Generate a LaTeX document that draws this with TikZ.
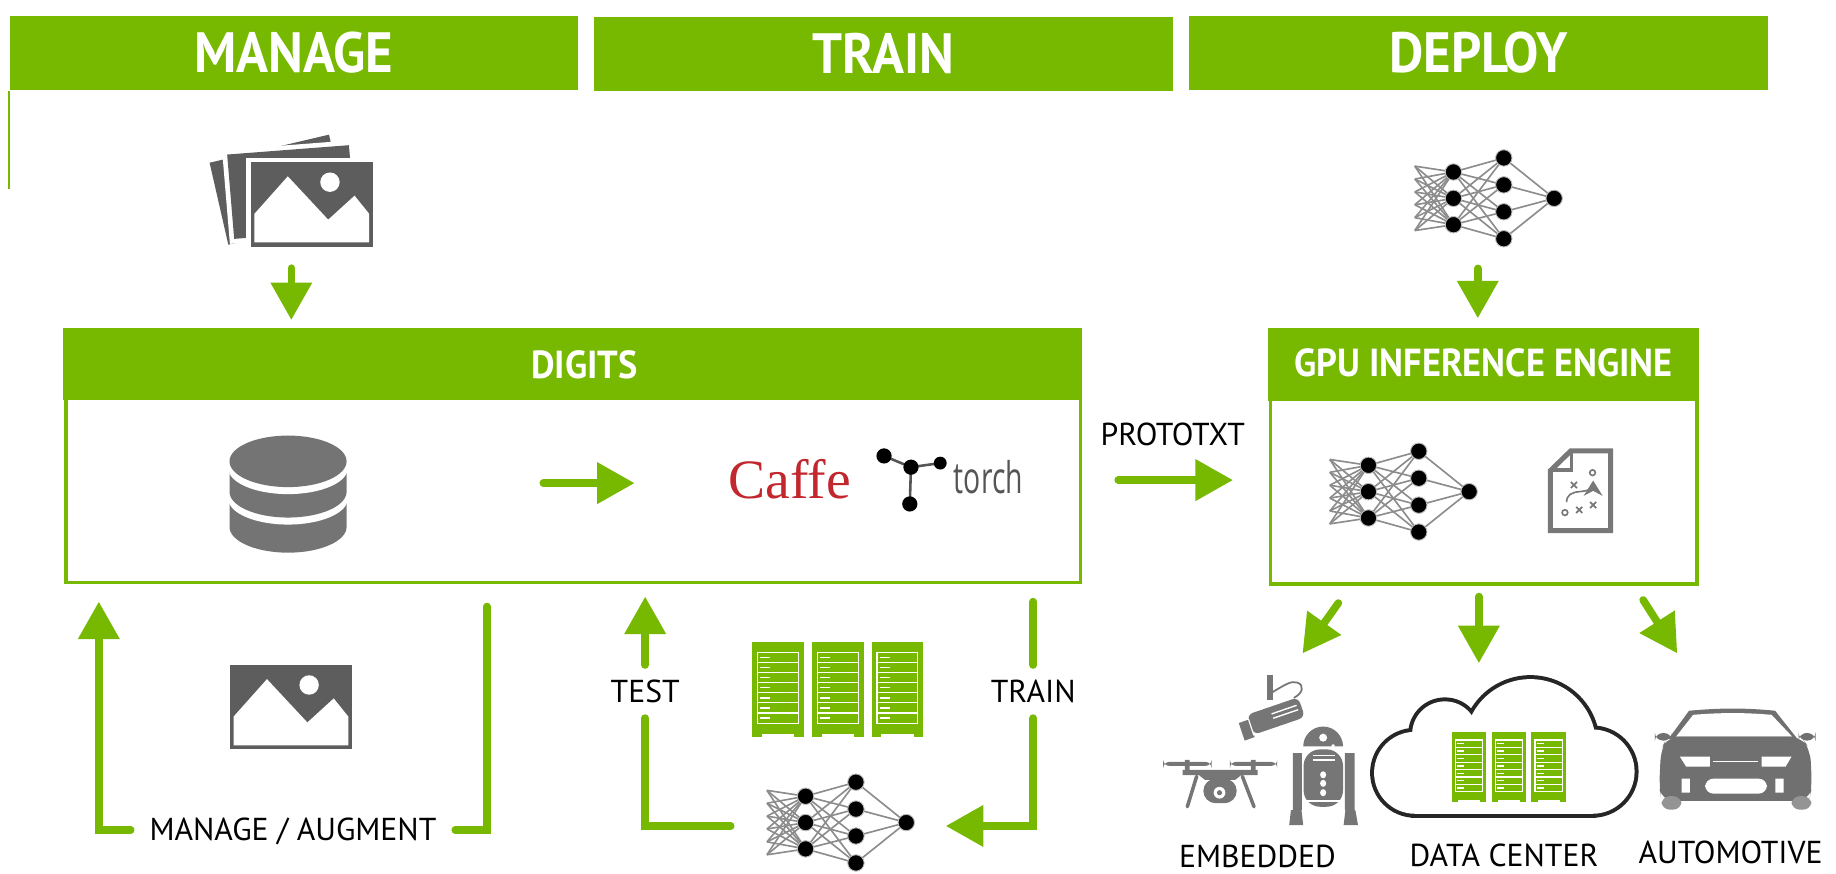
\documentclass[tikz,border=0pt]{standalone}
\usepackage{fontspec}
\setmainfont{PT Sans}
\newfontfamily\barfont{PT Sans}[FakeStretch=0.93]
\newfontfamily\caffefont{Liberation Serif}
\newfontfamily\torchfont{Open Sans}[FakeStretch=0.65]
\usetikzlibrary{arrows.meta}

\definecolor{nvgreen}{RGB}{118,185,0}
\definecolor{photogray}{RGB}{93,93,93}
\definecolor{dbgray}{RGB}{116,116,116}
\definecolor{docgray}{RGB}{120,120,120}
\definecolor{embgray}{RGB}{118,118,118}
\definecolor{cargray}{RGB}{112,112,112}
\definecolor{netgray}{RGB}{140,140,140}
\definecolor{caffered}{RGB}{193,39,45}
\definecolor{torchgray}{RGB}{85,85,85}

\tikzset{
  flow/.style={draw=nvgreen, line width=0.65mm, line cap=round, -{Triangle[length=3.2mm,width=3.4mm]}},
  loopline/.style={draw=nvgreen, line width=0.65mm, line cap=round},
  stagebar/.style={fill=nvgreen, text=white, inner sep=0pt, font=\barfont\bfseries\fontsize{13.8}{15}\selectfont},
  panel/.style={draw=nvgreen, line width=0.3mm, inner sep=0pt},
  panelhead/.style={fill=nvgreen, inner sep=0pt},
  headtitle/.style={text=white, inner sep=0pt, font=\barfont\bfseries\fontsize{9.5}{10}\selectfont},
  note/.style={inner sep=0pt, text height=1.85mm, text depth=0pt, font=\fontsize{7.7}{8}\selectfont},
  netline/.style={draw=netgray, line width=0.14mm},
  netdot/.style={fill=black, draw=netgray!60, line width=0.08mm},
  % small network: origin on the middle node of the first layer
  netfig/.pic={
    \foreach \ya in {-27.5,-16.5,-5.5,5.5,16.5,27.5}
      \foreach \yb in {-22.5,0,22.5}
        \draw[netline] (-33,\ya) -- (0,\yb);
    \foreach \yb in {-22.5,0,22.5}
      \foreach \yc in {-34.5,-11.5,11.5,34.5}
        \draw[netline] (0,\yb) -- (43,\yc);
    \foreach \yc in {-34.5,-11.5,11.5,34.5}
      \draw[netline] (43,\yc) -- (86,0);
    \foreach \x/\y in {0/-22.5,0/0,0/22.5,43/-34.5,43/-11.5,43/11.5,43/34.5,86/0}
      \filldraw[netdot] (\x,\y) circle[radius=7];
  },
  % framed picture, origin top left
  photo/.pic={
    \fill[photogray] (0,0) rectangle (104,72);
    \fill[white] (3,44) -- (31.5,12) -- (66,49) -- (88.5,28.5) -- (101,44) -- (101,68.5) -- (3,68.5) -- cycle;
    \fill[white] (67.5,17) circle[radius=8.3];
  },
  % server rack, origin top left
  rack/.pic={
    \fill[nvgreen] (0,0) rectangle (44,81);
    \fill[white] (8,78.8) rectangle (36,81.5);
    \draw[white, line width=0.1mm] (4.6,9.1) rectangle (39.4,69.6);
    \foreach \k in {1,...,6}
      \draw[white, line width=0.1mm] (4.6,9.1+8.64*\k) -- (39.4,9.1+8.64*\k);
    \foreach \k in {0,...,6}
      \draw[white, line width=0.12mm] (6.8,13.4+8.64*\k) -- (15.5,13.4+8.64*\k);
  },
  % database, origin at centre of top disk
  dbstack/.pic={
    \fill[dbgray] (-50,32) -- (-50,56) arc[start angle=180,end angle=0,x radius=50,y radius=22] -- (50,32) -- cycle;
    \fill[white] (-51,20) -- (-51,32) arc[start angle=180,end angle=0,x radius=51,y radius=22] -- (51,20) -- cycle;
    \fill[dbgray] (-50,6) -- (-50,26) arc[start angle=180,end angle=0,x radius=50,y radius=22] -- (50,6) -- cycle;
    \fill[white] (-51,-5) -- (-51,6) arc[start angle=180,end angle=0,x radius=51,y radius=22] -- (51,-5) -- cycle;
    \fill[dbgray] (0,0) ellipse[x radius=50,y radius=22];
  },
  % play sheet, origin top left
  playdoc/.pic={
    \draw[docgray, line width=0.43mm] (2.15,19) -- (19.5,2.15) -- (53.5,2.15) -- (53.5,70.3) -- (2.15,70.3) -- cycle;
    \draw[docgray, line width=0.3mm] (2.15,18.5) -- (20.2,18.5) -- (20.2,2.15);
    \foreach \x/\y in {22.2/31.3,26.7/52.6,38.6/48.4}
      \draw[docgray, line width=0.15mm] (\x-2.6,\y-2.6) -- (\x+2.6,\y+2.6) (\x-2.6,\y+2.6) -- (\x+2.6,\y-2.6);
    \draw[docgray, line width=0.14mm] (38.1,20.8) circle[radius=2.4] (14.5,54.9) circle[radius=2.4];
    \draw[docgray, line width=0.14mm, -{Stealth[length=1.3mm,width=1.6mm]}] (15.9,46) .. controls (15.9,40) and (20,37.5) .. (27,37) .. controls (33,36.5) and (38.6,34) .. (38.6,27.5);
  }
}

\begin{document}
\begin{tikzpicture}[x=0.01cm,y=-0.01cm]
\useasboundingbox (0,0) rectangle (1568,746);

% stages
\node[stagebar, minimum width=4.851cm, minimum height=0.635cm] (managebar) at (251,45.1) {MANAGE};
\node[stagebar, minimum width=4.949cm, minimum height=0.632cm] (trainbar) at (754.5,45.8) {TRAIN};
\node[stagebar, minimum width=4.942cm, minimum height=0.635cm] (deploybar) at (1262.8,45.2) {DEPLOY};
\draw[nvgreen, line width=0.2mm] (managebar.south west) -- ++(0,84);

% panels
\node[panel, anchor=north west, minimum width=8.66cm, minimum height=2.155cm] (digits) at (54.9,280.5) {};
\node[panelhead, anchor=north west, minimum width=8.69cm, minimum height=0.62cm] (digitshead) at (53.4,279) {};
\node[headtitle] (digitstitle) at (499,311.2) {DIGITS};
\node[panel, anchor=north west, minimum width=3.64cm, minimum height=2.165cm] (gie) at (1083.5,280.5) {};
\node[panelhead, anchor=north west, minimum width=3.67cm, minimum height=0.626cm] (giehead) at (1082,279) {};
\node[headtitle] (gietitle) at (1267,309.8) {GPU INFERENCE ENGINE};

% photo stack
\foreach \poly in {{(179,139) -- (281,115) -- (297,185) -- (195,209)},{(194,132) -- (298,124) -- (304,196) -- (200,204)},{(214.3,138.6) -- (318.3,138.6) -- (318.3,210.6) -- (214.3,210.6)}}{
  \draw[white, line width=0.8mm] \poly -- cycle;
  \fill[photogray] \poly -- cycle;
}
\pic at (214.3,138.6) {photo};
\pic at (196.5,568) {photo};

% inside DIGITS
\pic at (246,394) {dbstack};
\node[font=\caffefont\fontsize{13.5}{14}\selectfont, text=caffered, anchor=base, inner sep=0pt] (caffe) at (674.6,425.6) {Caffe};
\draw[torchgray, line width=0.22mm] (755,389.4) -- (778,399) -- (803,395.5) (778,399) -- (777,430.4);
\foreach \x/\y/\r in {755/389.4/6.5,778/399/6.5,803/395.5/5.5,777/430.4/6.5}
  \fill[black] (\x,\y) circle[radius=\r];
\node[font=\torchfont\fontsize{10.6}{11}\selectfont, text=torchgray, anchor=base west, inner sep=0pt] (torch) at (814,421.3) {torch};

% inside GPU inference engine
\pic at (1168.7,419.9) {netfig};
\pic at (1322,382.9) {playdoc};
\pic at (1241.3,169.4) {netfig};

% racks
\foreach \x in {642.5,693.7,744.4}
  \pic at (\x,548) {rack};

% straight arrows
\coordinate (stackfoot) at (248.8,229);
\coordinate (digitstop) at (248.8,273.3);
\coordinate (dbout) at (464,412.6);
\coordinate (fwin) at (542,412.6);
\coordinate (protostart) at (955,410);
\coordinate (protoend) at (1053,410);
\coordinate (netfoot) at (1262.1,229.2);
\coordinate (gietop) at (1262.1,271.8);
\coordinate (gieout1) at (1143,515);
\coordinate (embtip) at (1112.4,558);
\coordinate (gieout2) at (1263,509.5);
\coordinate (dctip) at (1263,566.4);
\coordinate (gieout3) at (1403.3,512.4);
\coordinate (autotip) at (1432.4,558);
\draw[flow] (stackfoot) -- (digitstop);
\draw[flow] (dbout) -- (fwin);
\draw[flow] (protostart) -- (protoend);
\draw[flow] (netfoot) -- (gietop);
\draw[flow] (gieout1) -- (embtip);
\draw[flow] (gieout2) -- (dctip);
\draw[flow] (gieout3) -- (autotip);
\node[note] (protonote) at (1001.5,371) {PROTOTXT};

% manage / augment loop
\node[note, minimum width=2.756cm, minimum height=0.3cm] (augnote) at (250.2,708.8) {MANAGE / AUGMENT};
\coordinate (augtop) at (416,518);
\coordinate (augtip) at (84.4,513.8);
\draw[loopline] (augtop) |- (augnote.east);
\draw[flow] (augnote.west) -| (augtip);

% train / test loop
\node[note, minimum height=0.439cm] (trainnote) at (882.4,590.6) {TRAIN};
\node[note, minimum height=0.439cm] (testnote) at (551,590.6) {TEST};
\node[inner sep=0pt, minimum width=1.822cm, minimum height=0.8cm] (trainnet) at (715.9,705.4) {};
\pic at (688,702.5) {netfig};
\coordinate (trainstart) at (882.4,513.8);
\coordinate (testtip) at (551,509.5);
\draw[loopline] (trainstart) -- (trainnote.north);
\draw[flow] (trainnote.south) |- (trainnet.east);
\draw[loopline] (trainnet.west) -| (testnote.south);
\draw[flow] (testnote.north) -- (testtip);

% cloud
\foreach \cx/\cy/\r in {1208.5/660/35,1234/627/28,1307/636/56,1360/659/36}
  \draw[black!85, line width=0.68mm] (\cx,\cy) circle[radius=\r];
\draw[black!85, line width=0.68mm] (1208.5,640) rectangle (1360,695);
\foreach \cx/\cy/\r in {1208.5/660/35,1234/627/28,1307/636/56,1360/659/36}
  \fill[white] (\cx,\cy) circle[radius=\r];
\fill[white] (1208.5,640) rectangle (1360,695);
\foreach \x in {1239.7,1273.8,1307.9}
  \pic[xscale=0.666, yscale=0.731] at (\x,625.4) {rack};

% drone
\fill[embgray, rounded corners=1.5] (993.4,650.7) rectangle (1034.7,654.1);
\fill[embgray, rounded corners=1.5] (1050.4,650.7) rectangle (1090.8,654.1);
\fill[embgray] (1012,649) rectangle (1016,661) (1068.3,649) rectangle (1072.3,661);
\fill[embgray] (1010,657.5) -- (1074,657.5) -- (1074,662) -- (1060,662) -- (1055,666) -- (1029,666) -- (1024,662) -- (1010,662) -- cycle;
\fill[embgray, rounded corners=3] (1027.7,665) rectangle (1056.2,686);
\fill[white] (1041.5,677) circle[radius=5];
\fill[embgray] (1041.5,677) circle[radius=2.2];
\draw[embgray, line width=0.3mm, line cap=round] (1022,663) -- (1014,689) (1061,663) -- (1071,689);

% security camera
\fill[embgray] (1082,576.4) rectangle (1087,598);
\draw[embgray, line width=0.15mm] (1087,591) .. controls (1097,585) and (1103,581) .. (1108,583) .. controls (1114,585) and (1113,592) .. (1105,596);
\fill[embgray, rounded corners=1.5] (1064.9,610.5) -- (1108.7,595.5) -- (1114.5,612.5) -- (1070.7,627.5) -- cycle;
\fill[embgray] (1066.5,614.5) -- (1058,617.5) -- (1063,632.5) -- (1071.5,629.5) -- cycle;
\draw[white, line width=0.1mm] (1066.2,614) -- (1070.8,628);
\draw[white, line width=0.12mm] (1086,609.7) -- (1107.3,602.4) (1087.4,613.4) -- (1108.7,606.1);

% droid
\fill[embgray] (1113,637.5) arc[start angle=180,end angle=360,radius=17] -- cycle;
\fill[embgray, rounded corners=4] (1113.3,640) rectangle (1147,689);
\fill[embgray] (1104.2,643.3) rectangle (1111.8,691.9) (1148.5,643.3) rectangle (1156.9,691.9);
\fill[embgray] (1102.5,691.9) -- (1111.5,691.9) -- (1113,704.7) -- (1101,704.7) -- cycle;
\fill[embgray] (1149,691.9) -- (1157.5,691.9) -- (1159.8,704.7) -- (1147.5,704.7) -- cycle;
\fill[white] (1130,630) circle[radius=3.4] (1138.6,637) circle[radius=1.6];
\draw[white, line width=0.12mm] (1121,645) -- (1140,645) (1121,649) -- (1140,649) (1113.3,684) -- (1147,684);
\foreach \y in {661.7,669,677}
  \fill[white] (1130,\y) ellipse[x radius=2.6, y radius=3];

% car
\fill[cargray] (1442.5,607) .. controls (1470,604.5) and (1490,604.5) .. (1516,607) -- (1535,631) -- (1425,631) -- cycle;
\fill[white] (1446,610.5) .. controls (1470,608.5) and (1490,608.5) .. (1513,610.5) -- (1530.5,629) -- (1431.5,629) -- cycle;
\fill[cargray, rounded corners=3] (1424,629) -- (1538,629) -- (1546,640) -- (1547.5,672) -- (1545,684) -- (1419,684) -- (1417,672) -- (1418.5,640) -- cycle;
\fill[cargray!75, rounded corners=2] (1419,680) rectangle (1436,691.5) (1530,680) rectangle (1547,691.5);
\fill[cargray, rounded corners=2] (1413.3,626) rectangle (1428,632.5) (1536,626) rectangle (1550.5,632.5);
\fill[white] (1434.7,646.2) -- (1460.3,646.2) -- (1460.3,654.7) -- (1440,654.7) -- cycle;
\fill[white] (1504.4,646.2) -- (1530,646.2) -- (1525,654.7) -- (1504.4,654.7) -- cycle;
\draw[white, line width=0.1mm] (1463,650.5) -- (1501,650.5);
\fill[white, rounded corners=2] (1456.3,665) rectangle (1509,677.8);
\fill[white] (1436.1,665) rectangle (1443.2,677) (1516.2,665) rectangle (1523.3,677);

% deploy targets
\node[note] (embnote) at (1073.9,731.3) {EMBEDDED};
\node[note] (dcnote) at (1284.5,730.8) {DATA CENTER};
\node[note] (autonote) at (1478,728.2) {AUTOMOTIVE};
\end{tikzpicture}
\end{document}
